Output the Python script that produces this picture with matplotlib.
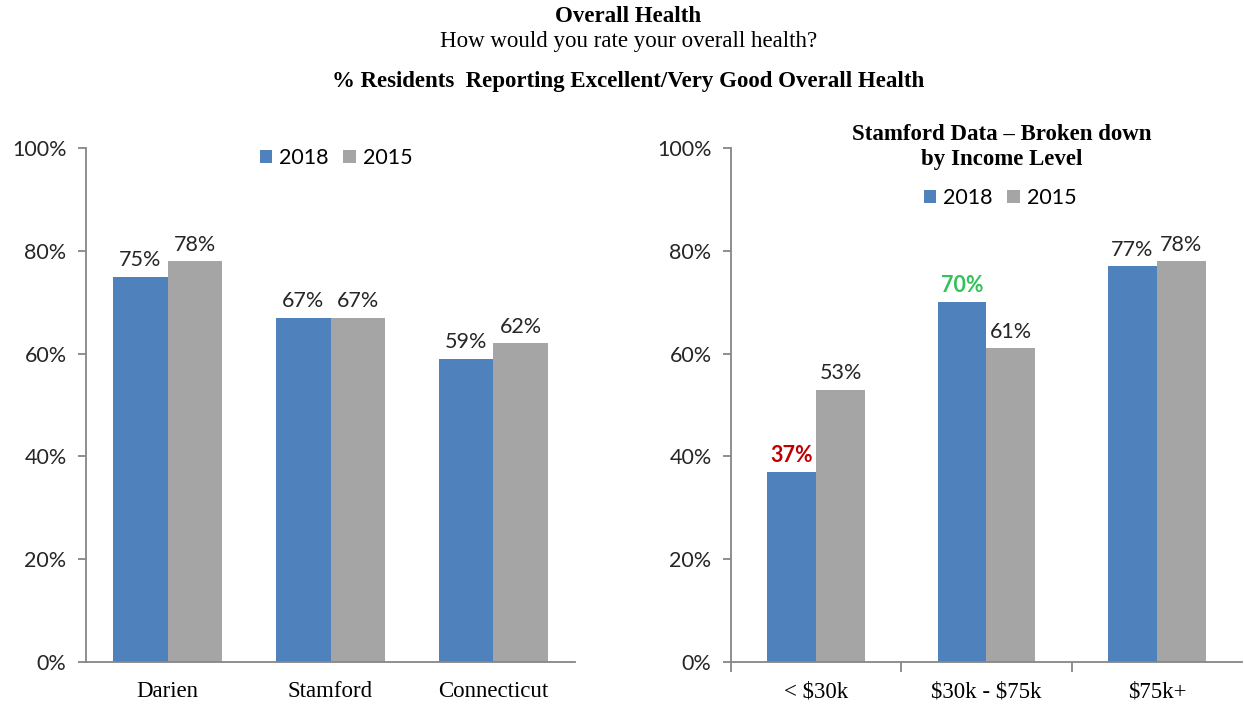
import matplotlib
matplotlib.use("Agg")
import matplotlib.pyplot as plt
from matplotlib.ticker import PercentFormatter, FixedLocator
import numpy as np

# ---- data ----
left_categories = ["Darien", "Stamford", "Connecticut"]
left_2018 = [75, 67, 59]
left_2015 = [78, 67, 62]

right_categories = ["< \\$30k", "\\$30k - \\$75k", "\\$75k+"]
right_2018 = [37, 70, 77]
right_2015 = [53, 61, 78]

series_names = ["2018", "2015"]
yticks = [0, 20, 40, 60, 80, 100]

# ---- style ----
BLUE = "#4F81BD"
GRAY = "#A5A5A5"
AXIS = "#868686"
SANS = ["Lato", "DejaVu Sans"]
SERIF = ["Liberation Serif", "DejaVu Serif"]
SANS_SIZE = 15.5
SERIF_SIZE = 16.5

fig = plt.figure(figsize=(12.44, 7.04), dpi=100)

fig.text(0.505, 1 - 16 / 704, "Overall Health", ha="center", va="center",
         family=SERIF, fontweight="bold", fontsize=SERIF_SIZE)
fig.text(0.505, 1 - 42 / 704, "How would you rate your overall health?", ha="center", va="center",
         family=SERIF, fontsize=SERIF_SIZE)
fig.text(0.505, 1 - 81 / 704, "% Residents  Reporting Excellent/Very Good Overall Health", ha="center",
         va="center", family=SERIF, fontweight="bold", fontsize=SERIF_SIZE)

ax1 = fig.add_axes([86 / 1244, 1 - 662 / 704, (575 - 86) / 1244, (662 - 148) / 704])
ax2 = fig.add_axes([731 / 1244, 1 - 662 / 704, (1242 - 731) / 1244, (662 - 148) / 704])


def style_axes(ax, ncat):
    ax.set_ylim(0, 100)
    ax.set_xlim(-0.5, ncat - 0.5)
    ax.set_yticks(yticks)
    ax.yaxis.set_major_formatter(PercentFormatter(decimals=0))
    for s in ["top", "right"]:
        ax.spines[s].set_visible(False)
    for s in ["left", "bottom"]:
        ax.spines[s].set_color(AXIS)
        ax.spines[s].set_linewidth(1.3)
    ax.tick_params(axis="y", direction="out", length=6, width=1.3, color=AXIS,
                   labelsize=SANS_SIZE, pad=8)
    for lab in ax.get_yticklabels():
        lab.set_family(SANS)
        lab.set_color("#262626")


def draw(ax, cats, s18, s15, width, label_colors=None):
    x = np.arange(len(cats))
    b1 = ax.bar(x - width / 2, s18, width, color=BLUE, label=series_names[0])
    b2 = ax.bar(x + width / 2, s15, width, color=GRAY, label=series_names[1])
    for i, (r, v) in enumerate(zip(b1, s18)):
        col, wt = ("#262626", "normal")
        if label_colors and i in label_colors:
            col, wt = label_colors[i], "bold"
        ax.annotate(f"{v}%", (r.get_x() + r.get_width() / 2, v), xytext=(0, 4.5),
                    textcoords="offset points", ha="center", va="bottom",
                    fontsize=SANS_SIZE, color=col, fontweight=wt, family=SANS)
    for r, v in zip(b2, s15):
        ax.annotate(f"{v}%", (r.get_x() + r.get_width() / 2, v), xytext=(0, 4.5),
                    textcoords="offset points", ha="center", va="bottom",
                    fontsize=SANS_SIZE, color="#262626", family=SANS)
    ax.set_xticks(x)
    ax.set_xticklabels(cats)
    for lab in ax.get_xticklabels():
        lab.set_family(SERIF)
        lab.set_fontsize(SERIF_SIZE)
    return x


style_axes(ax1, 3)
draw(ax1, left_categories, left_2018, left_2015, 0.337)
ax1.tick_params(axis="x", length=0, pad=14)
ax1.legend(loc="center", bbox_to_anchor=((336 - 86) / 489, (662 - 158) / 514), ncol=2,
           frameon=False, handlelength=0.6, handleheight=0.6, handletextpad=0.3,
           columnspacing=0.7, prop={"family": SANS, "size": SANS_SIZE})

style_axes(ax2, 3)
draw(ax2, right_categories, right_2018, right_2015, 0.287,
     label_colors={0: "#C00000", 1: "#33C25A"})
ax2.tick_params(axis="x", which="major", length=0, pad=14)
ax2.xaxis.set_minor_locator(FixedLocator([-0.5, 0.5, 1.5]))
ax2.tick_params(axis="x", which="minor", length=7, width=1.3, color=AXIS, direction="out")
ax2.legend(loc="center", bbox_to_anchor=((1000 - 731) / 511, (662 - 198) / 514), ncol=2,
           frameon=False, handlelength=0.6, handleheight=0.6, handletextpad=0.3,
           columnspacing=0.7, prop={"family": SANS, "size": SANS_SIZE})

fig.text(1002 / 1244, 1 - 147 / 704, "Stamford Data \u2013 Broken down\nby Income Level",
         ha="center", va="center", family=SERIF, fontweight="bold", fontsize=SERIF_SIZE,
         linespacing=1.3)

fig.savefig("out.png", dpi=100)
